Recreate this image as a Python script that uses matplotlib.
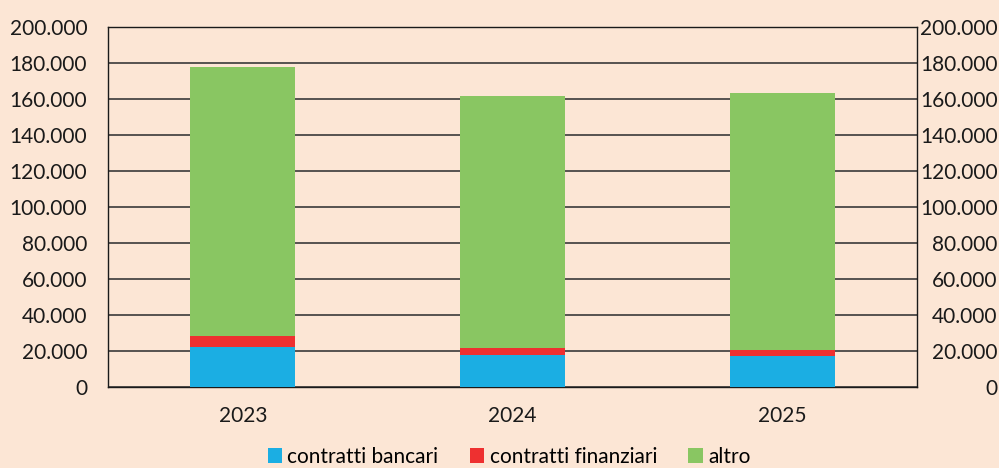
import matplotlib
matplotlib.use("Agg")
import matplotlib.pyplot as plt
import numpy as np

categories = ["2023", "2024", "2025"]
bancari = [22000, 18000, 17500]
finanziari = [6300, 3700, 3100]
altro = [149700, 140100, 142700]
series_names = ["contratti bancari", "contratti finanziari", "altro"]
colors = ["#1BAEE3", "#EE3030", "#89C662"]
yticks = list(range(0, 200001, 20000))
ytick_labels = ["0"] + [f"{v//1000}.000" for v in yticks[1:]]

bg = "#FCE6D5"
plt.rcParams['font.family'] = ['Lato', 'DejaVu Sans']
FS = 15

fig = plt.figure(figsize=(9.99, 4.68), dpi=100, facecolor=bg)
ax = fig.add_axes([108/999, 1-387/468, 809/999, 360/468], facecolor=bg)

x = np.arange(len(categories))
w = 0.39
b1 = ax.bar(x, bancari, w, color=colors[0], label=series_names[0], zorder=3)
bottom2 = np.array(bancari)
b2 = ax.bar(x, finanziari, w, bottom=bottom2, color=colors[1], label=series_names[1], zorder=3)
bottom3 = bottom2 + np.array(finanziari)
b3 = ax.bar(x, altro, w, bottom=bottom3, color=colors[2], label=series_names[2], zorder=3)

ax.set_xlim(-0.5, len(categories) - 0.5)
ax.set_ylim(0, 200000)
ax.set_yticks(yticks)
ax.set_yticklabels(ytick_labels, fontsize=FS)
ax.set_xticks(x)
ax.set_xticklabels(categories, fontsize=FS)
ax.tick_params(axis='both', length=0, colors='#1a1a1a')
ax.tick_params(axis='x', pad=14)
ax.tick_params(axis='y', pad=15)
ax.yaxis.grid(True, color='#3a3a3a', linewidth=1.2, zorder=0)
for s in ax.spines.values():
    s.set_color('#1a1a1a')
    s.set_linewidth(1.0)

ax2 = ax.twinx()
ax2.set_ylim(0, 200000)
ax2.set_yticks(yticks)
ax2.set_yticklabels(ytick_labels, fontsize=FS)
for lab in ax2.get_yticklabels():
    lab.set_horizontalalignment('right')
ax2.tick_params(axis='y', length=0, pad=58, colors='#1a1a1a')
for s in ax2.spines.values():
    s.set_visible(False)

fig.legend(handles=[b1, b2, b3], labels=series_names, loc='center',
           bbox_to_anchor=(509/999, 1-457/468), ncol=3, frameon=False,
           fontsize=FS, handlelength=0.7, handleheight=0.7, handletextpad=0.25,
           columnspacing=1.5)

fig.savefig("out.png", dpi=100, facecolor=bg)
